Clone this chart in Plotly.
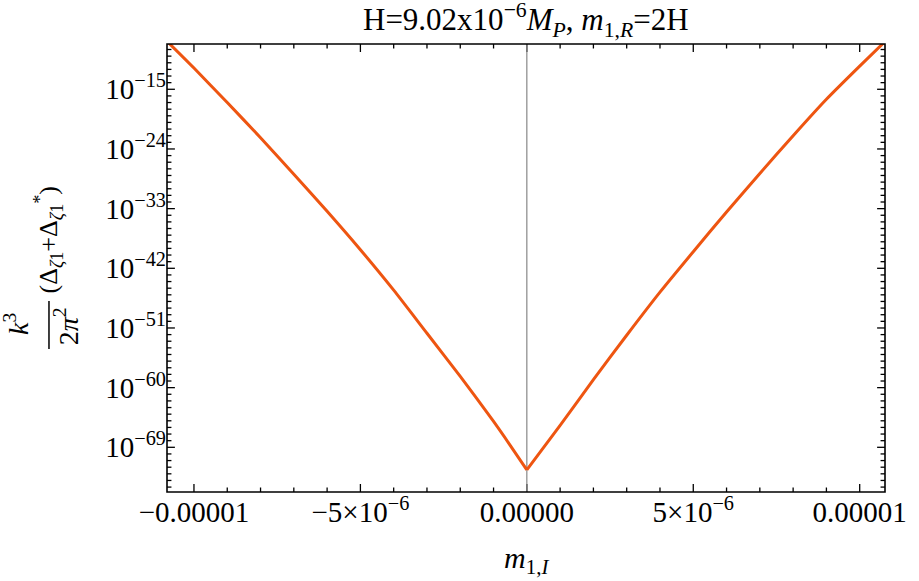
import plotly.graph_objects as go

# ---- data ----
# m_{1,I} values (in units of M_P) and log10 of k^3/(2pi^2)(Delta+Delta*)
m1I_left = [-10.8e-6, -10.0e-6, -9.0e-6, -8.0e-6, -7.0e-6, -6.0e-6, -5.0e-6,
            -4.0e-6, -3.0e-6, -2.0e-6, -1.0e-6, -0.5e-6, 0.0]
log_left = [-7.8, -11.8, -17.0, -22.3, -27.8, -33.4, -39.2,
            -45.3, -51.8, -58.3, -65.1, -68.7, -72.4]
m1I_right = [0.0, 0.5e-6, 1.0e-6, 2.0e-6, 3.0e-6, 4.0e-6, 5.0e-6,
             6.0e-6, 7.0e-6, 8.0e-6, 9.0e-6, 10.0e-6, 10.8e-6]
log_right = [-72.4, -69.05, -65.7, -58.8, -52.1, -45.6, -39.5,
             -33.5, -27.7, -22.0, -16.5, -11.5, -7.6]

x_tickvals = [-1e-5, -5e-6, 0.0, 5e-6, 1e-5]
x_ticktext = ["−0.00001", "−5×10<sup>−6</sup>", "0.00000", "5×10<sup>−6</sup>", "0.00001"]
x_minor_step = 1e-6
y_exponents = [-15, -24, -33, -42, -51, -60, -69]

FONT = "Liberation Serif"
W, H = 919, 581
L, R, T, B = 167, 894, 44, 492
CURVE = "#EE5511"
X_RANGE = [-10.81e-6, 10.76e-6]
Y_RANGE = [-75.74, -8.17]   # log10 units


def px(xp):
    return (xp - L) / (R - L)


def py(yp):
    return (B - yp) / (B - T)


fig = go.Figure()

# ---- frame ticks (Mathematica-style, inside, on all four sides) as one line trace ----
MAJ, MIN_ = 8.0, 4.5                      # tick lengths in pixels
dx_per_px = (X_RANGE[1] - X_RANGE[0]) / (R - L)
dlog_per_px = (Y_RANGE[1] - Y_RANGE[0]) / (B - T)
n_minor = int(round(10e-6 / x_minor_step))
x_minor = [k * x_minor_step for k in range(-n_minor, n_minor + 1)]
x_minor = [v for v in x_minor if all(abs(v - t) > 1e-12 for t in x_tickvals)]
y_minor = [e for e in range(int(Y_RANGE[1]) - 1, int(Y_RANGE[0]) - 1, -1)
           if e not in y_exponents and Y_RANGE[0] < e < Y_RANGE[1]]

tx, ty = [], []
for vals, ln in ((x_tickvals, MAJ), (x_minor, MIN_)):
    for v in vals:
        tx += [v, v, None, v, v, None]
        ty += [10 ** Y_RANGE[0], 10 ** (Y_RANGE[0] + ln * dlog_per_px), None,
               10 ** Y_RANGE[1], 10 ** (Y_RANGE[1] - ln * dlog_per_px), None]
for exps, ln in ((y_exponents, MAJ), (y_minor, MIN_)):
    for e in exps:
        tx += [X_RANGE[0], X_RANGE[0] + ln * dx_per_px, None,
               X_RANGE[1], X_RANGE[1] - ln * dx_per_px, None]
        ty += [10.0 ** e, 10.0 ** e, None, 10.0 ** e, 10.0 ** e, None]
fig.add_trace(go.Scatter(x=tx, y=ty, mode="lines", line=dict(color="black", width=1.3),
                         showlegend=False, hoverinfo="skip"))

# zero line
fig.add_trace(go.Scatter(x=[0.0, 0.0], y=[10 ** Y_RANGE[0], 10 ** Y_RANGE[1]], mode="lines",
                         line=dict(color="#888888", width=1.2), showlegend=False,
                         hoverinfo="skip"))

# the curve
for xs, ls in ((m1I_left, log_left), (m1I_right, log_right)):
    fig.add_trace(go.Scatter(x=xs, y=[10.0 ** p for p in ls], mode="lines",
                             line=dict(color=CURVE, width=3, shape="spline", smoothing=0.6),
                             showlegend=False, hoverinfo="x+y"))

y_tickvals = [10.0 ** e for e in y_exponents]
y_ticktext = ["10<sup>−%d</sup>" % (-e) for e in y_exponents]

axis_common = dict(showgrid=False, zeroline=False, showline=False, ticks="",
                   tickfont=dict(family=FONT, size=29, color="black"))

fig.update_xaxes(range=X_RANGE, tickmode="array", tickvals=x_tickvals,
                 ticktext=x_ticktext, **axis_common)
fig.update_yaxes(type="log", range=Y_RANGE, tickmode="array",
                 tickvals=y_tickvals, ticktext=y_ticktext, **axis_common)

# frame around the plot area
fig.add_shape(type="rect", xref="paper", yref="paper", x0=0, x1=1, y0=0, y1=1,
              line=dict(color="black", width=1.6), layer="above")

annotations = [
    dict(text="H=9.02x10<sup>−6</sup><i>M<sub>P</sub></i>, <i>m</i><sub>1,<i>R</i></sub>=2H",
         x=0.5, y=py(20), size=31, angle=0),
    dict(text="<i>m</i><sub>1,<i>I</i></sub>", x=px(531), y=py(560), size=30, angle=0),
    dict(text="<i>k</i><sup>3</sup>", x=px(14), y=py(324), size=28, angle=-90),
    dict(text="2<i>π</i><sup>2</sup>", x=px(65), y=py(326), size=28, angle=-90),
    dict(text="(Δ<sub><i>ζ</i>1</sub>+Δ<sub><i>ζ</i>1</sub><sup>*</sup>)",
         x=px(47), y=py(240), size=26, angle=-90),
]
for a in annotations:
    fig.add_annotation(text=a["text"], x=a["x"], y=a["y"], xref="paper", yref="paper",
                       xanchor="center", yanchor="middle", showarrow=False,
                       textangle=a["angle"],
                       font=dict(family=FONT, size=a["size"], color="black"))

# fraction bar
fig.add_shape(type="line", xref="paper", yref="paper", x0=px(47.5), x1=px(47.5),
              y0=py(301), y1=py(349), line=dict(color="black", width=1.5))

fig.update_layout(width=W, height=H, margin=dict(l=L, r=W - R, t=T, b=H - B),
                  paper_bgcolor="white", plot_bgcolor="white",
                  font=dict(family=FONT, color="black"))

fig.write_html("out.html", config={"displayModeBar": False},
               post_script="document.body.style.margin='0';document.body.style.padding='0';")
